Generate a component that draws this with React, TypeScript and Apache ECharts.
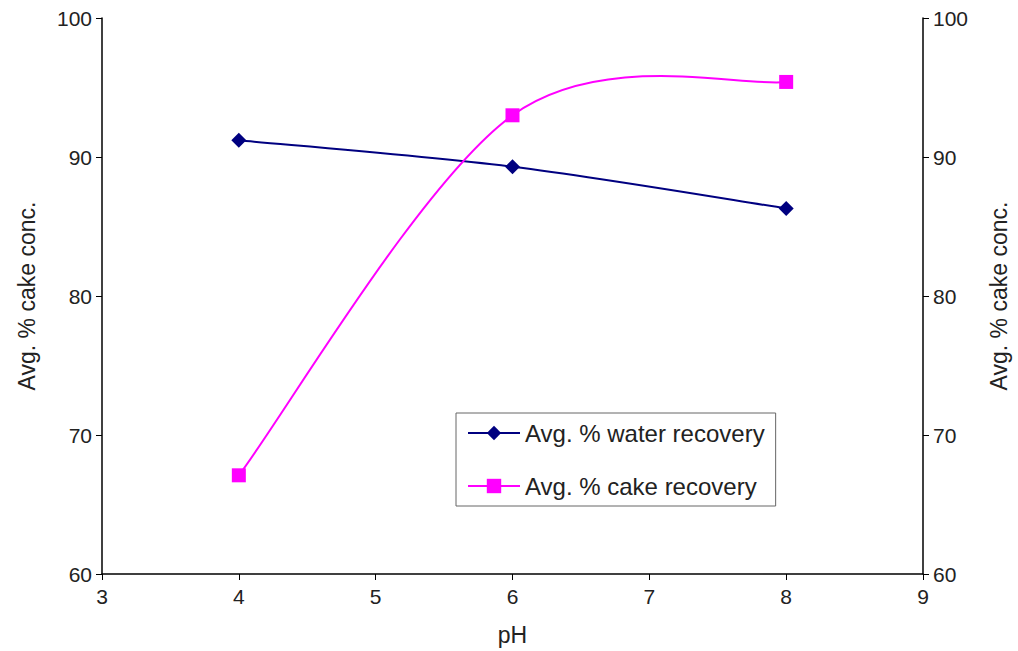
import React, { useEffect, useRef } from "react";
import * as echarts from "echarts";

const phValues = [4, 6, 8];
const waterRecovery = [91.2, 89.3, 86.3];
const cakeRecovery = [67.1, 93.0, 95.4];
const waterName = "Avg. % water recovery";
const cakeName = "Avg. % cake recovery";
const yAxisTitle = "Avg. % cake conc.";
const xAxisTitle = "pH";

const FONT = "Liberation Sans, Arial, sans-serif";
const WATER_COLOR = "#000080";
const CAKE_COLOR = "#FF00FF";

// Excel-style smoothed curve (Catmull-Rom-like Bezier, tension 1/6) in pixel space
function excelSmoothPath(pts: number[][]): string {
  if (pts.length === 0) return "";
  let d = `M${pts[0][0]},${pts[0][1]}`;
  for (let i = 0; i < pts.length - 1; i++) {
    const p0 = pts[i - 1] || pts[i];
    const p1 = pts[i];
    const p2 = pts[i + 1];
    const p3 = pts[i + 2] || pts[i + 1];
    const c1x = p1[0] + (p2[0] - p0[0]) / 6;
    const c1y = p1[1] + (p2[1] - p0[1]) / 6;
    const c2x = p2[0] - (p3[0] - p1[0]) / 6;
    const c2y = p2[1] - (p3[1] - p1[1]) / 6;
    d += ` C${c1x},${c1y} ${c2x},${c2y} ${p2[0]},${p2[1]}`;
  }
  return d;
}

function curveSeries(id: string, ys: number[], color: string, yAxisIndex: number, z: number) {
  return {
    id,
    name: id,
    type: "custom",
    coordinateSystem: "cartesian2d",
    yAxisIndex,
    z,
    silent: true,
    clip: false,
    data: phValues.map((x, i) => [x, ys[i]]),
    encode: { x: 0, y: 1 },
    renderItem: (params: any, api: any) => {
      if (params.dataIndex !== 0) return null;
      const pts = phValues.map((x, i) => api.coord([x, ys[i]]));
      return {
        type: "path",
        shape: { pathData: excelSmoothPath(pts) },
        style: { fill: "none", stroke: color, lineWidth: 2 },
      };
    },
  };
}

export default function App() {
  const ref = useRef<HTMLDivElement>(null);
  useEffect(() => {
    if (!ref.current) return;
    const chart = echarts.init(ref.current, undefined, { renderer: "svg" });
    const axisText = { color: "#222", fontSize: 21, fontFamily: FONT };
    const yCommon = {
      type: "value",
      min: 60,
      max: 100,
      interval: 10,
      name: yAxisTitle,
      nameLocation: "middle",
      nameGap: 64,
      nameTextStyle: { ...axisText, fontSize: 23 },
      axisLine: { show: true, lineStyle: { color: "#000", width: 1.5 } },
      axisTick: { show: true, length: 6, lineStyle: { color: "#000" } },
      axisLabel: { ...axisText, margin: 10 },
      splitLine: { show: false },
    };
    chart.setOption({
      animation: false,
      backgroundColor: "#fff",
      textStyle: { fontFamily: FONT },
      grid: { left: 102, right: 95, top: 18, bottom: 75, containLabel: false },
      legend: {
        orient: "vertical",
        left: 456,
        top: 413,
        padding: [8, 11, 8, 11],
        itemWidth: 52,
        itemHeight: 18,
        itemGap: 29,
        borderColor: "#666",
        borderWidth: 1,
        textStyle: { color: "#222", fontSize: 24, fontFamily: FONT },
        data: [
          { name: waterName, lineStyle: { opacity: 1, width: 2, color: WATER_COLOR } },
          { name: cakeName, lineStyle: { opacity: 1, width: 2, color: CAKE_COLOR } },
        ],
      },
      xAxis: {
        type: "value",
        min: 3,
        max: 9,
        interval: 1,
        name: xAxisTitle,
        nameLocation: "middle",
        nameGap: 49,
        nameTextStyle: { ...axisText, fontSize: 23 },
        axisLine: { show: true, onZero: false, lineStyle: { color: "#000", width: 1.5 } },
        axisTick: { show: true, length: 6, lineStyle: { color: "#000" } },
        axisLabel: { ...axisText, margin: 12 },
        splitLine: { show: false },
      },
      yAxis: [
        { ...yCommon, position: "left" },
        { ...yCommon, position: "right" },
      ],
      series: [
        curveSeries("waterCurve", waterRecovery, WATER_COLOR, 0, 2),
        curveSeries("cakeCurve", cakeRecovery, CAKE_COLOR, 1, 3),
        {
          name: waterName,
          type: "line",
          yAxisIndex: 0,
          z: 4,
          data: phValues.map((x, i) => [x, waterRecovery[i]]),
          symbol: "diamond",
          symbolSize: 15,
          lineStyle: { color: WATER_COLOR, width: 2, opacity: 0 },
          itemStyle: { color: WATER_COLOR },
        },
        {
          name: cakeName,
          type: "line",
          yAxisIndex: 1,
          z: 5,
          data: phValues.map((x, i) => [x, cakeRecovery[i]]),
          symbol: "rect",
          symbolSize: 14,
          lineStyle: { color: CAKE_COLOR, width: 2, opacity: 0 },
          itemStyle: { color: CAKE_COLOR },
        },
      ],
    });
    return () => chart.dispose();
  }, []);
  return <div ref={ref} style={{ width: 1018, height: 651, position: "absolute", left: 0, top: 0 }} />;
}
